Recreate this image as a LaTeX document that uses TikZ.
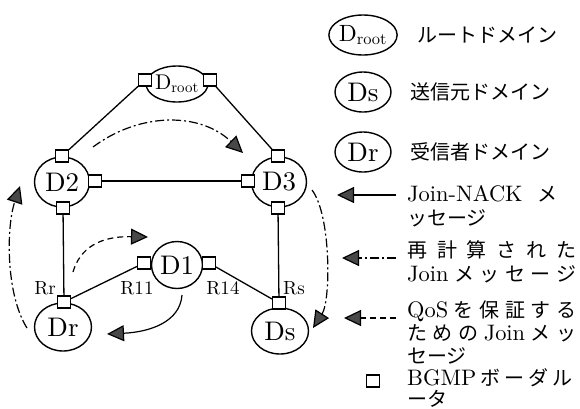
\documentclass[tikz,border=0pt]{standalone}
\usepackage{fontspec}
\setmainfont{lmroman10-regular.otf}[Scale=1.12]
\newfontfamily\jp{Noto Sans CJK JP}
\usepackage{tikz}
\usetikzlibrary{arrows.meta,positioning,shapes.geometric}
\definecolor{tipgrey}{RGB}{72,72,72}
\tikzset{
  domainnode/.style={ellipse,draw,line width=1.4pt,inner sep=0pt,
    minimum width=55pt,minimum height=50pt,font=\fontsize{24}{26}\selectfont},
  rootdomain/.style={domainnode,minimum width=54pt,minimum height=36pt,
    font=\fontsize{19}{21}\selectfont},
  keydomain/.style={domainnode,minimum width=56pt,minimum height=40pt},
  border/.style={rectangle,draw,fill=white,line width=1.1pt,
    minimum width=13pt,minimum height=12pt,inner sep=0pt},
  link/.style={line width=1.3pt},
  bigtip/.style={-{Triangle[length=17pt,width=16pt,fill=tipgrey]}},
  nack/.style={bigtip,line width=1.2pt},
  rejoin/.style={bigtip,line width=1.2pt,dash pattern=on 9pt off 3pt on 2pt off 3pt},
  qosjoin/.style={bigtip,line width=1.2pt,dash pattern=on 6pt off 4pt},
  rlabel/.style={font=\fontsize{17}{19}\selectfont,inner sep=0pt},
  keytext/.style={font=\fontsize{20}{24}\selectfont,align=left,inner sep=0pt,
    anchor=west}
}
\newcommand{\jline}[1]{\makebox[169pt][s]{#1}}

\begin{document}
\begin{tikzpicture}[x=1pt,y=-1pt]
  \useasboundingbox (0,0) rectangle (580,408);
  % domains
  \node[rootdomain] (droot) at (177,84) {D\textsubscript{root}};
  \node[domainnode] (d2) at (62,182) {D2};
  \node[domainnode] (d3) at (279,182) {D3};
  \node[domainnode,minimum width=51pt,minimum height=47pt] (d1) at (177,265) {D1};
  \node[domainnode,minimum width=57pt,minimum height=48pt] (dr) at (63,327) {Dr};
  \node[domainnode,minimum width=57pt,minimum height=46pt] (ds) at (280,331) {Ds};
  % BGMP border routers
  \node[border] (rootl) at (145,80) {};
  \node[border] (rootr) at (210,80) {};
  \node[border] (d2t) at (62,156) {};
  \node[border] (d2r) at (95,181) {};
  \node[border] (d2b) at (63,208) {};
  \node[border] (d3t) at (278,156) {};
  \node[border] (d3l) at (248,181) {};
  \node[border] (d3b) at (278,208) {};
  \node[border] (d1l) at (144,263) {};
  \node[border] (d1r) at (209,263) {};
  \node[border] (drt) at (64,302) {};
  \node[border] (dst) at (279,303) {};
  \draw[link] (rootl) -- (d2t); \draw[link] (rootr) -- (d3t);
  \draw[link] (d2r) -- (d3l);
  \draw[link] (d2b) -- (drt); \draw[link] (d3b) -- (dst);
  \draw[link] (drt) -- (d1l); \draw[link] (d1r) -- (dst);
  \node[rlabel] (rr) at (45,288) {Rr};
  \node[rlabel] (r11) at (137,288) {R11};
  \node[rlabel] (r14) at (223,288) {R14};
  \node[rlabel] (rs) at (294,288) {Rs};
  % messages
  \coordinate (up0) at (93,147); \coordinate (up1) at (243,153);
  \draw[rejoin] (up0) .. controls (140,112) and (200,112) .. (up1);
  \coordinate (lf0) at (27,328); \coordinate (lf1) at (20,186);
  \draw[rejoin] (lf0) .. controls (6,295) and (6,228) .. (lf1);
  \coordinate (rt0) at (312,190); \coordinate (rt1) at (313,328);
  \draw[rejoin] (rt0) .. controls (331,215) and (331,300) .. (rt1);
  \coordinate (qs0) at (73,272); \coordinate (qs1) at (148,237);
  \draw[qosjoin] (qs0) .. controls (80,248) and (100,236) .. (qs1);
  \coordinate (nk0) at (182,295); \coordinate (nk1) at (107,334);
  \draw[nack] (nk0) .. controls (180,322) and (150,332) .. (nk1);
  % legend
  \node[keydomain,font=\fontsize{21}{23}\selectfont] (keyroot) at (363,35)
    {D\textsubscript{root}};
  \node[keydomain] (keysrc) at (363,92) {Ds};
  \node[keydomain] (keyrcv) at (363,152) {Dr};
  \node[keytext,right=19pt of keyroot] (keyroott) {\jp ルートドメイン};
  \node[keytext,right=19pt of keysrc] (keysrct) {\jp 送信元ドメイン};
  \node[keytext,right=19pt of keyrcv] (keyrcvt) {\jp 受信者ドメイン};
  \coordinate (k1a) at (396,195); \coordinate (k1b) at (337,195);
  \draw[nack] (k1a) -- (k1b);
  \node[keytext] (k1t) at (407,206)
    {\makebox[150pt][s]{Join-NACK\hfill{\jp メ}}\\{\jp ッセージ}};
  \coordinate (k2a) at (396,258); \coordinate (k2b) at (342,258);
  \draw[rejoin] (k2a) -- (k2b);
  \node[keytext] (k2t) at (407,262)
    {\jline{\jp 再\hfill 計\hfill 算\hfill さ\hfill れ\hfill た}\\
     \jline{Join\hfill{\jp メ\hfill ッ\hfill セ\hfill ー\hfill ジ}}};
  \coordinate (k3a) at (396,318); \coordinate (k3b) at (344,318);
  \draw[qosjoin] (k3a) -- (k3b);
  \node[keytext,font=\fontsize{20}{23}\selectfont] (k3t) at (407,332)
    {\jline{QoS\hfill{\jp を\hfill 保\hfill 証\hfill す\hfill る}}\\
     \jline{{\jp た\hfill め\hfill の}\hfill Join\hfill{\jp メ\hfill ッ}}\\
     {\jp セージ}};
  \node[border] (keyborder) at (373,381) {};
  \node[keytext,font=\fontsize{20}{21}\selectfont] (k4t) at (407,387.5)
    {\makebox[165pt][s]{BGMP\hfill{\jp ボ\hfill ー\hfill ダ\hfill ル}}\\{\jp ータ}};
\end{tikzpicture}
\end{document}
